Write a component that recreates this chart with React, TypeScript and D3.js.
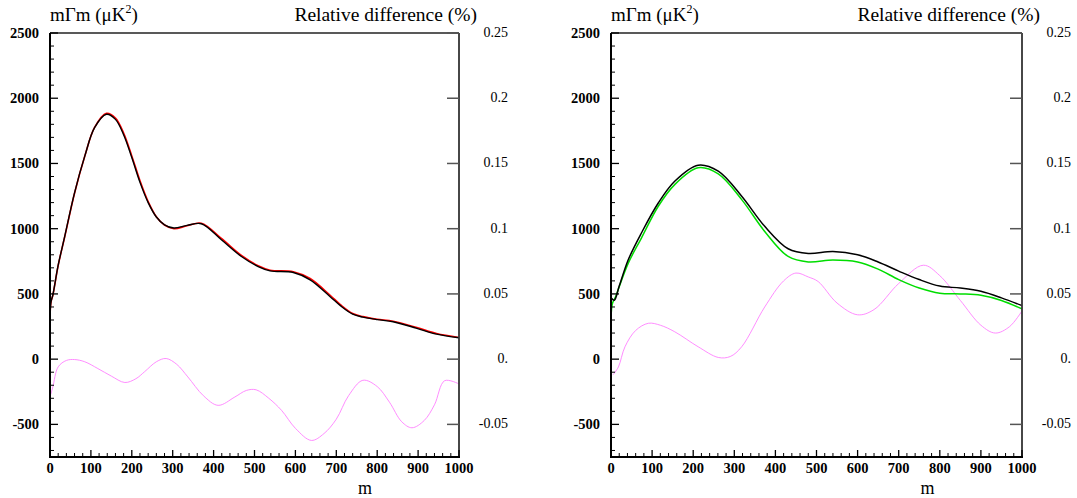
import React from 'react';
import * as d3 from 'd3';

// left panel: power spectrum (black) vs approximation (red) + relative difference (pink)
const leftM = [0, 2, 7, 20, 36, 60, 85, 109, 138, 160, 180, 200, 220, 240, 260, 280, 303, 335, 370, 419, 468, 509, 538, 595, 636, 685, 710, 740, 765, 800, 839, 897, 945, 1000];
const leftBlack = [0, 430, 492, 720, 941, 1275, 1556, 1774, 1877, 1838, 1720, 1545, 1355, 1200, 1090, 1030, 1005, 1025, 1038, 915, 787, 710, 677, 664, 608, 479, 410, 345, 322, 303, 287, 236, 192, 164];
const leftRed = [0, 430, 490, 718, 938, 1272, 1555, 1776, 1884, 1848, 1733, 1558, 1368, 1208, 1092, 1028, 1000, 1022, 1042, 925, 795, 716, 682, 670, 618, 490, 418, 350, 326, 306, 291, 242, 196, 166];
const leftPinkM = [2, 7, 20, 40, 60, 85, 117, 150, 183, 210, 231, 260, 284, 310, 337, 375, 411, 452, 480, 504, 535, 566, 600, 639, 670, 700, 730, 765, 800, 830, 860, 885, 915, 940, 965, 1000];
const leftPink = [-0.027, -0.0213, -0.0059, -0.001, -0.0003, -0.002, -0.0072, -0.013, -0.0179, -0.015, -0.0097, -0.002, 0.0005, -0.004, -0.0136, -0.028, -0.0354, -0.029, -0.0240, -0.0235, -0.030, -0.0392, -0.053, -0.0623, -0.057, -0.046, -0.028, -0.0162, -0.021, -0.033, -0.048, -0.0526, -0.047, -0.035, -0.0165, -0.019];

// right panel: black vs green + relative difference (pink)
const rightM = [0, 8, 20, 42, 74, 115, 155, 212, 261, 318, 374, 431, 480, 540, 600, 650, 700, 750, 800, 850, 900, 950, 1000];
const rightBlack = [470, 452, 560, 762, 967, 1197, 1364, 1487, 1441, 1249, 1018, 846, 810, 825, 800, 745, 675, 610, 560, 545, 520, 470, 410];
const rightGreenM = [0, 3, 10, 42, 74, 115, 155, 212, 261, 318, 374, 431, 480, 540, 600, 650, 700, 750, 800, 850, 900, 950, 1000];
const rightGreen = [-60, 420, 470, 736, 928, 1172, 1338, 1467, 1420, 1223, 979, 787, 745, 760, 745, 690, 610, 545, 505, 500, 490, 450, 385];
const rightPinkM = [5, 18, 34, 60, 91, 120, 155, 212, 261, 290, 318, 374, 420, 450, 480, 504, 550, 600, 640, 700, 760, 800, 850, 900, 935, 970, 1000];
const rightPink = [-0.012, -0.006, 0.0095, 0.022, 0.0275, 0.026, 0.021, 0.0095, 0.0013, 0.002, 0.0095, 0.040, 0.060, 0.066, 0.063, 0.0595, 0.043, 0.034, 0.038, 0.058, 0.072, 0.064, 0.045, 0.026, 0.020, 0.025, 0.037];

const leftTicks = [-500, 0, 500, 1000, 1500, 2000, 2500];
const rightTicks = [-0.05, 0, 0.05, 0.1, 0.15, 0.2, 0.25];
const rightTickLabels = ['-0.05', '0.', '0.05', '0.1', '0.15', '0.2', '0.25'];
const xTicks = [0, 100, 200, 300, 400, 500, 600, 700, 800, 900, 1000];

const TOP = 33;
const BOTTOM = 457;
const SERIF = "'Liberation Serif', 'Times New Roman', serif";

interface Series {
  m: number[];
  v: number[];
  color: string;
  width: number;
  rel?: boolean;
}

interface PanelProps {
  x0: number;
  x1: number;
  series: Series[];
}

const Panel: React.FC<PanelProps> = ({ x0, x1, series }) => {
  const x = d3.scaleLinear().domain([0, 1000]).range([x0, x1]);
  const y = d3.scaleLinear().domain([-750, 2500]).range([BOTTOM, TOP]);
  const yr = d3.scaleLinear().domain([-0.075, 0.25]).range([BOTTOM, TOP]);

  const minorY = d3.range(-700, 2500, 100).filter(v => v % 500 !== 0);
  const minorX = d3.range(20, 1000, 20).filter(v => v % 100 !== 0);

  return (
    <g style={{ fontFamily: SERIF }}>
      <clipPath id={`clip${x0}`}>
        <rect x={x0} y={TOP} width={x1 - x0} height={BOTTOM - TOP} />
      </clipPath>
      <g clipPath={`url(#clip${x0})`}>
        {series.map((s, i) => {
          const sy = s.rel ? yr : y;
          const line = d3.line<number>()
            .x((_, j) => x(s.m[j]))
            .y(d => sy(d))
            .curve(d3.curveCatmullRom.alpha(0.5));
          return <path key={i} d={line(s.v) || ''} fill="none" stroke={s.color} strokeWidth={s.width} />;
        })}
      </g>

      {/* frame */}
      <line x1={x0} x2={x1} y1={TOP} y2={TOP} stroke="#222" strokeWidth={1.3} />
      <line x1={x1} x2={x1} y1={TOP} y2={BOTTOM} stroke="#333" strokeWidth={1.8} />
      <line x1={x0} x2={x0} y1={TOP} y2={BOTTOM + 1} stroke="#000" strokeWidth={2} />
      <line x1={x0 - 1} x2={x1 + 1} y1={BOTTOM} y2={BOTTOM} stroke="#000" strokeWidth={2} />

      {/* left axis */}
      {leftTicks.map(t => (
        <g key={t}>
          <line x1={x0} x2={x0 + 8} y1={y(t)} y2={y(t)} stroke="#000" strokeWidth={1.3} />
          <text x={x0 - 11} y={y(t) + 5} textAnchor="end" fontWeight="bold" fontSize={14.5}>{t}</text>
        </g>
      ))}
      {minorY.map(t => (
        <line key={t} x1={x0} x2={x0 + 4} y1={y(t)} y2={y(t)} stroke="#000" strokeWidth={1} />
      ))}

      {/* right axis */}
      {rightTicks.map((t, i) => (
        <g key={t}>
          <line x1={x1 - 12} x2={x1} y1={yr(t)} y2={yr(t)} stroke="#555" strokeWidth={1.5} />
          <text x={x1 + 49} y={yr(t) + 4} textAnchor="end" fontSize={14}>{rightTickLabels[i]}</text>
        </g>
      ))}

      {/* bottom axis */}
      {xTicks.map(t => (
        <g key={t}>
          <line x1={x(t)} x2={x(t)} y1={BOTTOM} y2={BOTTOM - 7} stroke="#000" strokeWidth={1.3} />
          <text x={x(t)} y={BOTTOM + 16} textAnchor="middle" fontWeight="bold" fontSize={14.5}>{t}</text>
        </g>
      ))}
      {minorX.map(t => (
        <line key={t} x1={x(t)} x2={x(t)} y1={BOTTOM} y2={BOTTOM - 4} stroke="#000" strokeWidth={1} />
      ))}

      {/* titles */}
      <text x={x0} y={21} fontSize={19}>
        mΓm (μK<tspan dy={-8} fontSize={12}>2</tspan><tspan dy={8}>)</tspan>
      </text>
      <text x={x1 + 18} y={21} textAnchor="end" fontSize={19.5}>Relative difference (%)</text>
      <text x={x(770)} y={494} textAnchor="middle" fontSize={18}>m</text>
    </g>
  );
};

const App: React.FC = () => {
  const pink = '#ff80ff';
  return (
    <svg width={1077} height={498} style={{ position: 'absolute', left: 0, top: 0, background: '#fff' }}>
      <rect width={1077} height={498} fill="#fff" />
      <Panel
        x0={50}
        x1={459}
        series={[
          { m: leftPinkM, v: leftPink, color: pink, width: 0.9, rel: true },
          { m: leftM, v: leftRed, color: '#ff0000', width: 1.6 },
          { m: leftM, v: leftBlack, color: '#000000', width: 1.4 },
        ]}
      />
      <Panel
        x0={611}
        x1={1022}
        series={[
          { m: rightPinkM, v: rightPink, color: pink, width: 0.9, rel: true },
          { m: rightGreenM, v: rightGreen, color: '#00dd00', width: 1.5 },
          { m: rightM, v: rightBlack, color: '#000000', width: 1.5 },
        ]}
      />
    </svg>
  );
};

export default App;
